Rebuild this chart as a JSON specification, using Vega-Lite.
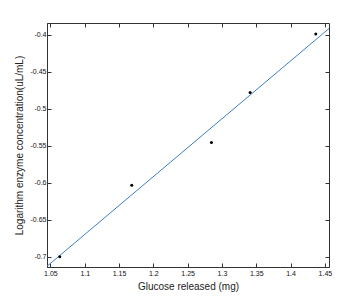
{
  "$schema": "https://vega.github.io/schema/vega-lite/v6.json",
  "autosize": "none",
  "width": 282,
  "height": 244,
  "padding": {"left": 47, "top": 23, "right": 35, "bottom": 35},
  "background": "white",
  "config": {
    "view": {"stroke": "#333333", "strokeWidth": 1},
    "font": "Liberation Sans",
    "axis": {
      "grid": false,
      "domainColor": "#333333",
      "tickColor": "#333333",
      "tickSize": -4,
      "labelFont": "Liberation Sans",
      "labelFontSize": 7,
      "labelColor": "#111111",
      "titleFont": "Liberation Sans",
      "titleFontSize": 10,
      "titleFontWeight": "normal",
      "titleColor": "#222222"
    }
  },
  "datasets": {
    "pts": [
      {"x": 1.0636, "y": -0.700},
      {"x": 1.1685, "y": -0.6035},
      {"x": 1.2847, "y": -0.5456},
      {"x": 1.341, "y": -0.478},
      {"x": 1.4367, "y": -0.399}
    ],
    "fit": [
      {"x": 1.045, "y": -0.713},
      {"x": 1.456, "y": -0.3915}
    ]
  },
  "resolve": {"axis": {"x": "independent", "y": "independent"}},
  "layer": [
    {
      "data": {"name": "fit"},
      "mark": {"type": "line", "color": "#3a7fc4", "strokeWidth": 1, "clip": true},
      "encoding": {
        "x": {"field": "x", "type": "quantitative", "scale": {"domain": [1.045, 1.456], "nice": false, "zero": false},
          "axis": {"title": "Glucose released (mg)", "values": [1.05, 1.1, 1.15, 1.2, 1.25, 1.3, 1.35, 1.4, 1.45], "labelExpr": "'' + datum.value", "labelPadding": 6, "titlePadding": 5}},
        "y": {"field": "y", "type": "quantitative", "scale": {"domain": [-0.714, -0.384], "nice": false, "zero": false},
          "axis": {"title": "Logarithm enzyme concentration(uL/mL)", "values": [-0.4, -0.45, -0.5, -0.55, -0.6, -0.65, -0.7], "labelExpr": "'' + datum.value", "labelPadding": 5, "titlePadding": 6}}
      }
    },
    {
      "data": {"name": "pts"},
      "mark": {"type": "point", "filled": true, "color": "#000000", "size": 9, "opacity": 1},
      "encoding": {
        "x": {"field": "x", "type": "quantitative", "axis": {"orient": "top", "title": null, "labels": false, "domain": false, "values": [1.05, 1.1, 1.15, 1.2, 1.25, 1.3, 1.35, 1.4, 1.45]}},
        "y": {"field": "y", "type": "quantitative", "axis": {"orient": "right", "title": null, "labels": false, "domain": false, "values": [-0.4, -0.45, -0.5, -0.55, -0.6, -0.65, -0.7]}}
      }
    }
  ]
}
